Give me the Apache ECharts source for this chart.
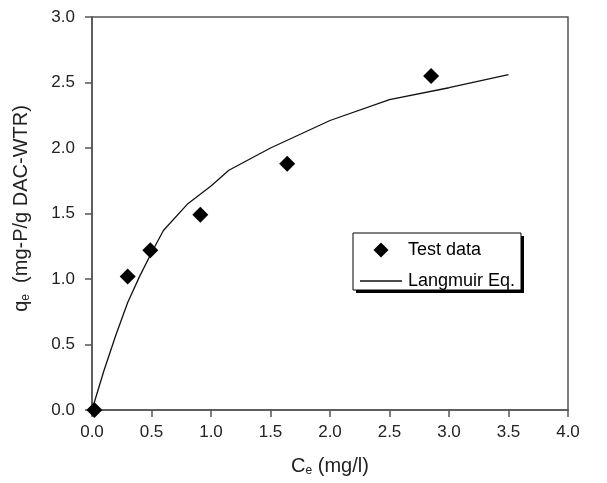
<!DOCTYPE html>
<html>
<head>
<meta charset="utf-8">
<script src="https://cdn.jsdelivr.net/npm/echarts@6/dist/echarts.min.js"></script>
<style>
  html, body { margin: 0; padding: 0; background: #fff; }
  #chart { width: 607px; height: 483px; }
</style>
</head>
<body>
<div id="chart"></div>
<script>
// test data (Ce, qe)
var testCe = [0.02, 0.30, 0.49, 0.91, 1.64, 2.85];
var testQe = [0.00, 1.02, 1.22, 1.49, 1.88, 2.55];

// Langmuir curve
var fitCe = [0, 0.1, 0.2, 0.3, 0.4, 0.5, 0.6, 0.8, 1.0, 1.15, 1.5, 2.0, 2.5, 3.0, 3.5];
var fitQe = [0, 0.30, 0.57, 0.82, 1.02, 1.20, 1.37, 1.57, 1.71, 1.83, 2.00, 2.21, 2.37, 2.46, 2.56];

var xTicks = [0, 0.5, 1, 1.5, 2, 2.5, 3, 3.5, 4];
var yTicks = [0, 0.5, 1, 1.5, 2, 2.5, 3];

function pairs(xs, ys) {
  return xs.map(function (x, i) { return [x, ys[i]]; });
}

var chart = echarts.init(document.getElementById('chart'));
var font = 'Liberation Sans, Arial, sans-serif';
var axisColor = '#555';
var titleRich = {
  a: { fontSize: 20, color: '#222', fontFamily: font },
  s: { fontSize: 12, color: '#222', fontFamily: font, padding: [9, 0, 0, 0] }
};

chart.setOption({
  animation: false,
  textStyle: { fontFamily: font },
  grid: {
    left: 92, right: 39, top: 17, bottom: 73,
    show: true, borderColor: axisColor, borderWidth: 1.5
  },
  // legend box with a hard drop shadow
  graphic: [
    {
      type: 'rect', z: 100,
      shape: { x: 356, y: 236, width: 168, height: 57 },
      style: { fill: '#000' }
    },
    {
      type: 'rect', z: 101,
      shape: { x: 353, y: 233, width: 168, height: 57 },
      style: { fill: '#fff', stroke: '#000', lineWidth: 1 }
    }
  ],
  legend: {
    orient: 'vertical',
    left: 360, top: 241,
    z: 110,
    itemWidth: 42, itemHeight: 15, itemGap: 13,
    padding: 0,
    textStyle: { fontSize: 18, color: '#000', fontFamily: font, padding: [0, 0, 0, 1] },
    data: [
      { name: 'Test data', icon: 'path://M1,0 L2,1 L1,2 L0,1 Z' },
      { name: 'Langmuir Eq.', icon: 'path://M0,0 L42,0 L42,1.3 L0,1.3 Z' }
    ]
  },
  xAxis: {
    type: 'value',
    min: xTicks[0], max: xTicks[xTicks.length - 1], interval: 0.5,
    axisLine: { show: true, lineStyle: { color: axisColor, width: 1.5 } },
    axisTick: { show: true, length: 7, lineStyle: { color: axisColor, width: 1.5 } },
    splitLine: { show: false },
    axisLabel: {
      color: '#222', fontSize: 17, margin: 14,
      formatter: function (v) { return v.toFixed(1); }
    },
    name: '{a|C}{s|e}{a| (mg/l)}',
    nameLocation: 'middle', nameGap: 46,
    nameTextStyle: { rich: titleRich }
  },
  yAxis: {
    type: 'value',
    min: yTicks[0], max: yTicks[yTicks.length - 1], interval: 0.5,
    axisLine: { show: true, lineStyle: { color: axisColor, width: 1.5 } },
    axisTick: { show: true, length: 7, lineStyle: { color: axisColor, width: 1.5 } },
    splitLine: { show: false },
    axisLabel: {
      color: '#222', fontSize: 17, margin: 17,
      formatter: function (v) { return v.toFixed(1); }
    },
    name: '{a|q}{s|e}{a|  (mg-P/g DAC-WTR)}',
    nameLocation: 'middle', nameGap: 60, nameRotate: 90,
    nameTextStyle: { rich: titleRich, padding: [0, 0, 0, 10] }
  },
  series: [
    {
      name: 'Langmuir Eq.',
      type: 'line',
      data: pairs(fitCe, fitQe),
      symbol: 'none',
      lineStyle: { color: '#111', width: 1.3 },
      itemStyle: { color: '#111' },
      z: 2
    },
    {
      name: 'Test data',
      type: 'scatter',
      data: pairs(testCe, testQe),
      symbol: 'diamond',
      symbolSize: 16,
      itemStyle: { color: '#000', opacity: 1 },
      z: 3
    }
  ]
});
</script>
</body>
</html>
